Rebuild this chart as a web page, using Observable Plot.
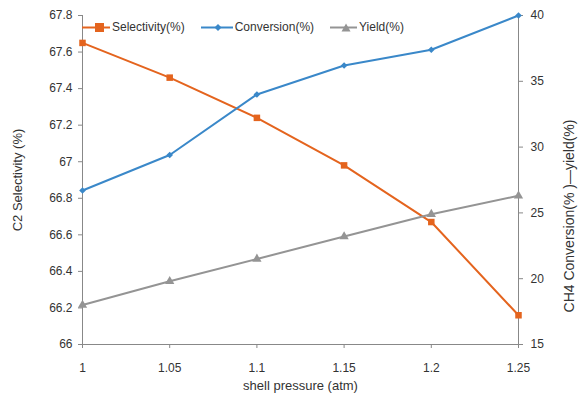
<!DOCTYPE html>
<html><head><meta charset="utf-8">
<script src="https://cdn.jsdelivr.net/npm/d3@7"></script>
<script src="https://cdn.jsdelivr.net/npm/@observablehq/plot@0.6"></script>
<style>
body{margin:0;background:#fff;font-family:"Liberation Sans",Arial,sans-serif;}
#wrap{position:relative;width:587px;height:396px;}
#legend{position:absolute;top:20px;left:82px;display:flex;gap:16px;font-size:12px;color:#333;align-items:center;}
#legend .it{display:flex;align-items:center;gap:2px;}
</style></head><body>
<div id="wrap"><div id="legend"></div></div>
<script>
const pressure = [1, 1.05, 1.1, 1.15, 1.2, 1.25];
const selectivity = [67.65, 67.46, 67.24, 66.98, 66.67, 66.16];
const conversion = [26.7, 29.4, 34.0, 36.2, 37.4, 40.0];
const yieldVals = [18.0, 19.8, 21.5, 23.2, 24.9, 26.3];
const leftTicks = [66, 66.2, 66.4, 66.6, 66.8, 67, 67.2, 67.4, 67.6, 67.8];
const rightTicks = [15, 20, 25, 30, 35, 40];
const xTicks = [1, 1.05, 1.1, 1.15, 1.2, 1.25];
const seriesNames = ["Selectivity(%)", "Conversion(%)", "Yield(%)"];
const colors = ["#E4641E", "#3A88C9", "#949494"];
const symbols = ["square", "diamond2", "triangle"];

const leftDom = [66, 67.8], rightDom = [15, 40];
const toLeft = v => leftDom[0] + (v - rightDom[0]) * (leftDom[1]-leftDom[0])/(rightDom[1]-rightDom[0]);
const fromLeft = v => rightDom[0] + (v - leftDom[0]) * (rightDom[1]-rightDom[0])/(leftDom[1]-leftDom[0]);

const rows = [];
pressure.forEach((p,i)=>{
  rows.push({x:p, y:selectivity[i], s:seriesNames[0]});
  rows.push({x:p, y:toLeft(conversion[i]), s:seriesNames[1]});
  rows.push({x:p, y:toLeft(yieldVals[i]), s:seriesNames[2]});
});
const rFor = {[seriesNames[0]]:4.8, [seriesNames[1]]:3.2, [seriesNames[2]]:4.2};
const axisColor = "#888";

const chart = Plot.plot({
  width: 587, height: 396,
  marginLeft: 82, marginRight: 69, marginTop: 15, marginBottom: 52,
  style: {fontFamily: '"Liberation Sans", Arial, sans-serif', fontSize: "12px", color: "#333", background: "white"},
  x: {domain: [1, 1.25]},
  y: {domain: leftDom},
  color: {domain: seriesNames, range: colors},
  symbol: {domain: seriesNames, range: symbols},
  marks: [
    Plot.ruleX([pressure[0], pressure[pressure.length-1]], {stroke: axisColor}),
    Plot.ruleY([leftDom[0]], {stroke: axisColor}),
    Plot.axisX({ticks: xTicks, tickFormat: d => String(+d.toFixed(2)), tickSize: 4, tickPadding: 15, stroke: axisColor,
      label: "shell pressure (atm)", labelAnchor: "center", labelArrow: "none", labelOffset: 45, fill: "#333"}),
    Plot.axisY({ticks: leftTicks, tickFormat: d => String(+d.toFixed(1)), tickSize: 4, tickPadding: 6, stroke: axisColor,
      label: "C2 Selectivity (%)", labelAnchor: "center", labelArrow: "none", labelOffset: 70, fill: "#333", fontSize: 12}),
    Plot.axisY({anchor: "right", ticks: rightTicks.map(toLeft), tickFormat: d => String(Math.round(fromLeft(d))), tickSize: 4, tickPadding: 8, stroke: axisColor,
      label: "CH4 Conversion(% )—yield(%)", labelAnchor: "center", labelArrow: "none", labelOffset: 55, fill: "#333"}),
    Plot.line(rows, {x: "x", y: "y", z: "s", stroke: "s", strokeWidth: 2}),
    Plot.dot(rows, {x: "x", y: "y", fill: "s", symbol: "s", r: d => rFor[d.s], stroke: "none"})
  ]
});
chart.querySelectorAll('g[aria-label="y-axis label"] text, g[aria-label="x-axis label"] text').forEach(t=>{t.setAttribute("font-size","13");});
// the right-axis title is larger and sits a little below centre in the reference
chart.querySelectorAll('g[aria-label="y-axis label"] text').forEach(t=>{
  if (t.textContent.startsWith("CH4")) {
    t.setAttribute("font-size","14");
    t.setAttribute("transform", "translate(0,36) " + (t.getAttribute("transform")||""));
  }
});
document.getElementById("wrap").prepend(chart);

const legend = document.getElementById("legend");
const symPaths = {
  square: '<rect x="13" y="2" width="9" height="9"/>',
  diamond2: '<path d="M17,3 L20.5,6.5 L17,10 L13.5,6.5Z"/>',
  triangle: '<path d="M16,2.5 L20.5,10.5 L11.5,10.5Z"/>'
};
const swW = [28, 32, 27];
seriesNames.forEach((n,i)=>{
  const it = document.createElement("div"); it.className="it";
  it.innerHTML = `<svg width="${swW[i]}" height="13"><line x1="0" x2="${swW[i]}" y1="6.5" y2="6.5" stroke="${colors[i]}" stroke-width="2"/><g fill="${colors[i]}">${symPaths[symbols[i]]}</g></svg><span>${n}</span>`;
  legend.appendChild(it);
});
</script>
</body></html>
